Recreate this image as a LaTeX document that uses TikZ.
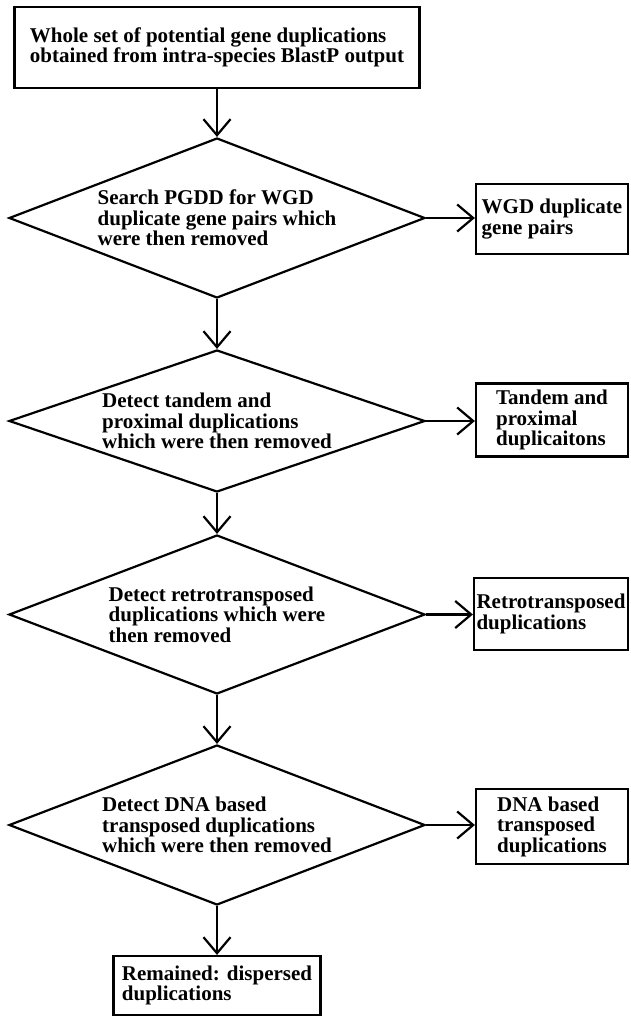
\documentclass[tikz,border=0pt]{standalone}
\usepackage{fontspec}
\setmainfont{Liberation Serif}
\usetikzlibrary{shapes.geometric}
\usetikzlibrary{arrows.meta}
\tikzset{>={Straight Barb[length=16pt,width=27pt]}}

\begin{document}
\begin{tikzpicture}[x=1pt, y=-1pt, line width=2.2pt,
    every node/.style={font=\bfseries\fontsize{21}{20.5}\selectfont, align=left, inner sep=0pt},
    stepbox/.style={draw, rectangle},
    decision/.style 2 args={draw, diamond, minimum width=416, minimum height=#1, shape aspect=#2}]
    \useasboundingbox (0, 0) rectangle (630, 1016);
    % main line
    \node[stepbox, minimum width=405, minimum height=81](all) at (217, 47.5)
        {Whole set of potential gene duplications\\obtained from intra-species BlastP output};
    \node[decision={160}{2.6}](wgdtest) at (217, 218)
        {Search PGDD for WGD\\duplicate gene pairs which\\were then removed};
    \node[decision={142}{2.93}](tandemtest) at (217, 421)
        {Detect tandem and\\proximal duplications\\which were then removed};
    \node[decision={159}{2.6}](retrotest) at (217, 614.5)
        {Detect retrotransposed\\duplications which were\\then removed};
    \node[decision={160}{2.6}](dnatest) at (217, 825)
        {Detect DNA based\\transposed duplications\\which were then removed};
    \node[stepbox, minimum width=207, minimum height=59](rest) at (217, 985.5)
        {Remained: dispersed\\duplications};
    % removed sets
    \node[stepbox, minimum width=152, minimum height=70](wgd) at (552, 219) {WGD duplicate\\gene pairs};
    \node[stepbox, minimum width=152, minimum height=73](tandem) at (552, 420) {Tandem and\\proximal\\duplicaitons};
    \node[stepbox, minimum width=154, minimum height=72](retro) at (551, 614) {Retrotransposed\\duplications};
    \node[stepbox, minimum width=152, minimum height=75](dna) at (552, 826.5) {DNA based\\transposed\\duplications};

    \draw[->](all.south)--(wgdtest.north);
    \draw[->](wgdtest.south)--(tandemtest.north);
    \draw[->](tandemtest.south)--(retrotest.north);
    \draw[->](retrotest.south)--(dnatest.north);
    \draw[->](dnatest.south)--(rest.north);
    \draw[->](wgdtest.east)--(wgdtest.east -| wgd.west);
    \draw[->](tandemtest.east)--(tandemtest.east -| tandem.west);
    \draw[->](retrotest.east)--(retrotest.east -| retro.west);
    \draw[->](dnatest.east)--(dnatest.east -| dna.west);
\end{tikzpicture}
\end{document}
